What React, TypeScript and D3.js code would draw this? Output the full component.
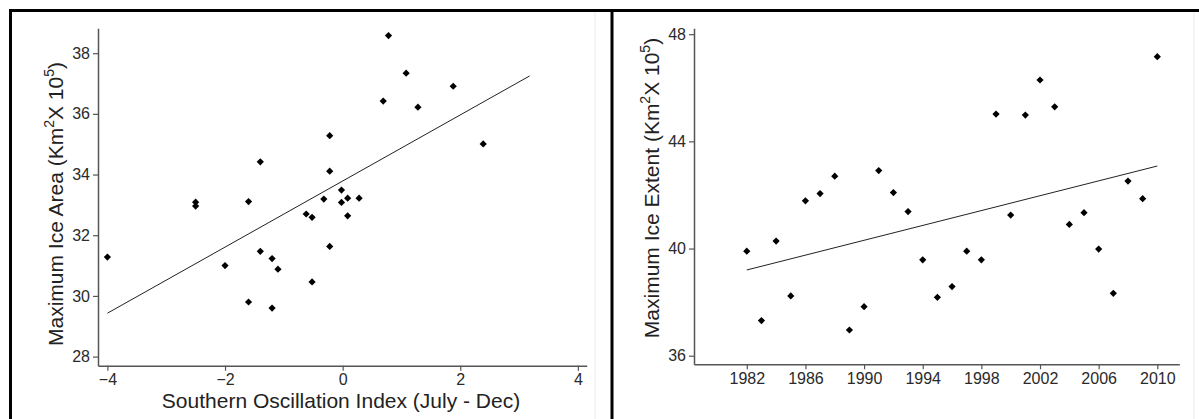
import { useEffect, useRef } from 'react';
import * as d3 from 'd3';

// left panel: SOI (Jul-Dec) vs maximum ice area
const soiIndex = [-2.5, -2.5, -1.4, -1.6, -4.0, -2.0, -1.4, -1.2, -1.1, -1.6, -1.2, 0.78, 1.08, 1.88, 0.69, 1.28, -0.22, 2.39, -0.22, -0.02, -0.32, -0.02, 0.085, 0.28, -0.62, -0.52, 0.085, -0.22, -0.52];
const iceArea = [33.09, 32.96, 34.42, 33.11, 31.28, 31.0, 31.47, 31.23, 30.88, 29.8, 29.6, 38.58, 37.34, 36.91, 36.42, 36.22, 35.28, 35.01, 34.11, 33.49, 33.19, 33.08, 33.22, 33.22, 32.7, 32.59, 32.64, 31.63, 30.46];
const soiTicks = [-4, -2, 0, 2, 4];
const areaTicks = [28, 30, 32, 34, 36, 38];
const soiTrendX = [-4, 3.18];
const soiTrendY = [29.43, 37.25];

// right panel: year vs maximum ice extent
const years = [1982, 1983, 1984, 1985, 1986, 1987, 1988, 1989, 1990, 1991, 1992, 1993, 1994, 1995, 1996, 1997, 1998, 1999, 2000, 2001, 2002, 2003, 2004, 2005, 2006, 2007, 2008, 2009, 2010];
const iceExtent = [39.9, 37.31, 40.28, 38.23, 41.78, 42.05, 42.7, 36.96, 37.83, 42.91, 42.09, 41.38, 39.58, 38.18, 38.58, 39.9, 39.58, 45.02, 41.25, 44.98, 46.29, 45.29, 40.9, 41.34, 39.98, 38.33, 42.52, 41.86, 47.16];
const yearTicks = [1982, 1986, 1990, 1994, 1998, 2002, 2006, 2010];
const extentTicks = [36, 40, 44, 48];
const yearTrendX = [1982, 2010];
const extentTrendY = [39.2, 43.08];

const FONT = "'Liberation Sans', Arial, Helvetica, sans-serif";

type Panel = {
  xs: number[]; ys: number[];
  xTicks: number[]; yTicks: number[];
  trendX: number[]; trendY: number[];
  xDomain: [number, number]; yDomain: [number, number];
  xRange: [number, number]; yRange: [number, number];
  yLabel: string; yLabelX: number; yLabelY: number;
  xLabel?: string; xLabelX?: number; xLabelY?: number;
  xFormat: (d: number) => string;
};

const drawPanel = (svg: d3.Selection<SVGSVGElement, unknown, null, undefined>, p: Panel) => {
  const x = d3.scaleLinear().domain(p.xDomain).range(p.xRange);
  const y = d3.scaleLinear().domain(p.yDomain).range(p.yRange);

  const g = svg.append('g');

  const xAxis = g.append('g')
    .attr('transform', `translate(0,${p.yRange[0]})`)
    .call(d3.axisBottom(x).tickValues(p.xTicks).tickFormat(d => p.xFormat(+d)).tickSize(5).tickSizeOuter(0).tickPadding(3));
  const yAxis = g.append('g')
    .attr('transform', `translate(${p.xRange[0]},0)`)
    .call(d3.axisLeft(y).tickValues(p.yTicks).tickFormat(d3.format('d')).tickSize(5).tickSizeOuter(0).tickPadding(3));

  [xAxis, yAxis].forEach(a => {
    a.selectAll('.domain').attr('stroke', '#555').attr('stroke-width', 1.5);
    a.selectAll('.tick line').attr('stroke', '#555').attr('stroke-width', 1.2);
    a.selectAll('.tick text').attr('fill', '#2a2a2a').attr('font-size', 16).attr('font-family', FONT);
  });

  g.append('line')
    .attr('x1', x(p.trendX[0])).attr('y1', y(p.trendY[0]))
    .attr('x2', x(p.trendX[1])).attr('y2', y(p.trendY[1]))
    .attr('stroke', '#222').attr('stroke-width', 1);

  const diamond = d3.symbol(d3.symbolSquare, 26);
  g.append('g')
    .selectAll('path')
    .data(p.xs.map((v, i) => [v, p.ys[i]]))
    .join('path')
    .attr('d', diamond())
    .attr('transform', d => `translate(${x(d[0])},${y(d[1])}) rotate(45)`)
    .attr('fill', '#000');

  const yl = g.append('text')
    .attr('transform', `translate(${p.yLabelX},${p.yLabelY}) rotate(-90)`)
    .attr('text-anchor', 'middle')
    .attr('font-family', FONT)
    .attr('font-size', 21)
    .attr('fill', '#222');
  const parts = p.yLabel.split('|');
  yl.append('tspan').text(parts[0]);
  yl.append('tspan').attr('dy', -9).attr('font-size', 14).text('2');
  yl.append('tspan').attr('dy', 9).text('X 10');
  yl.append('tspan').attr('dy', -9).attr('font-size', 14).text('5');
  yl.append('tspan').attr('dy', 9).text(')');

  if (p.xLabel) {
    g.append('text')
      .attr('x', p.xLabelX!).attr('y', p.xLabelY!)
      .attr('text-anchor', 'middle')
      .attr('font-family', FONT)
      .attr('font-size', 21)
      .attr('fill', '#222')
      .text(p.xLabel);
  }
};

const App = () => {
  const ref = useRef<SVGSVGElement>(null);

  useEffect(() => {
    if (!ref.current) return;
    const svg = d3.select(ref.current);
    svg.selectAll('*').remove();

    svg.append('rect').attr('width', 1199).attr('height', 419).attr('fill', '#fff');

    // frame
    svg.append('line').attr('x1', 595).attr('x2', 595).attr('y1', 12).attr('y2', 419).attr('stroke', '#e4ecf1').attr('stroke-width', 1);
    svg.append('line').attr('x1', 1194).attr('x2', 1194).attr('y1', 12).attr('y2', 419).attr('stroke', '#e4ecf1').attr('stroke-width', 1);
    svg.append('line').attr('x1', 9).attr('x2', 1199).attr('y1', 10.5).attr('y2', 10.5).attr('stroke', '#000').attr('stroke-width', 3);
    svg.append('line').attr('x1', 10.5).attr('x2', 10.5).attr('y1', 9).attr('y2', 419).attr('stroke', '#000').attr('stroke-width', 3);
    svg.append('line').attr('x1', 612).attr('x2', 612).attr('y1', 9).attr('y2', 419).attr('stroke', '#000').attr('stroke-width', 3);

    drawPanel(svg, {
      xs: soiIndex, ys: iceArea,
      xTicks: soiTicks, yTicks: areaTicks,
      trendX: soiTrendX, trendY: soiTrendY,
      xDomain: [-4.16, 4.15], yDomain: [27.7, 38.82],
      xRange: [98, 586.7], yRange: [365.7, 28.3],
      yLabel: 'Maximum Ice Area (Km|', yLabelX: 63, yLabelY: 204,
      xLabel: 'Southern Oscillation Index (July - Dec)', xLabelX: 341, xLabelY: 408,
      xFormat: d3.format('d'),
    });

    drawPanel(svg, {
      xs: years, ys: iceExtent,
      xTicks: yearTicks, yTicks: extentTicks,
      trendX: yearTrendX, trendY: extentTrendY,
      xDomain: [1978.4, 2011.5], yDomain: [35.68, 48.22],
      xRange: [694, 1179.3], yRange: [364.3, 28.3],
      yLabel: 'Maximum Ice Extent (Km|', yLabelX: 659, yLabelY: 188,
      xFormat: d => String(d),
    });
  }, []);

  return (
    <svg ref={ref} width={1199} height={419} style={{ position: 'absolute', left: 0, top: 0 }} />
  );
};

export default App;
